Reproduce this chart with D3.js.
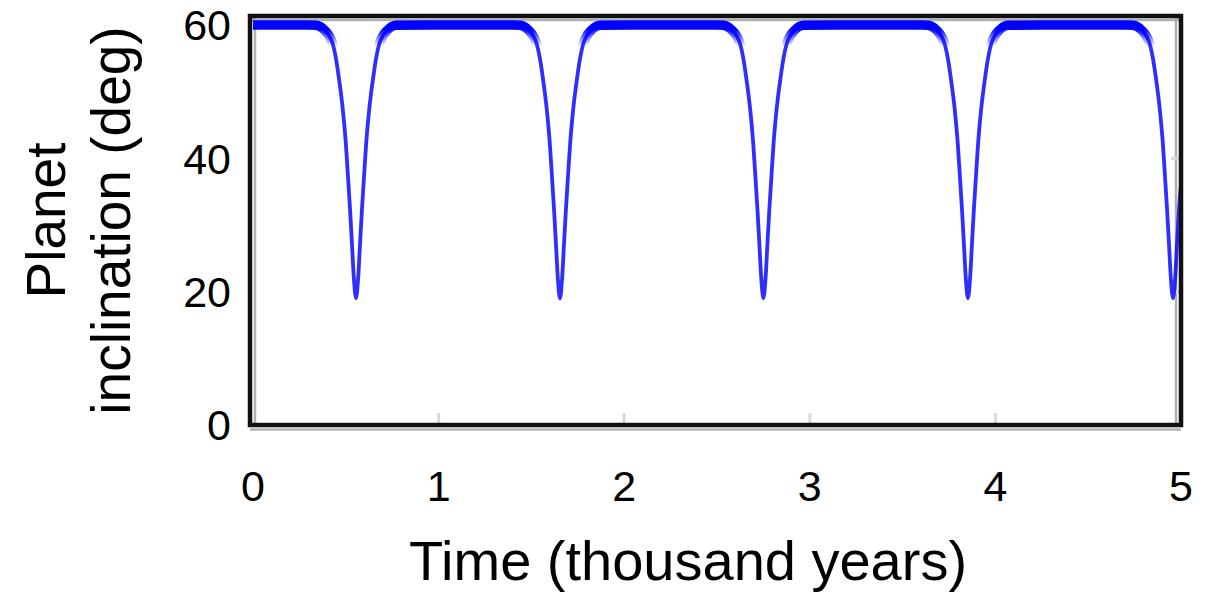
<!DOCTYPE html>
<html>
<head>
<meta charset="utf-8">
<script src="https://cdn.jsdelivr.net/npm/d3@7"></script>
<style>
  html, body { margin: 0; padding: 0; background: #fff; }
  svg { display: block; font-family: "Liberation Sans", Arial, sans-serif; }
</style>
</head>
<body>
<svg id="chart" width="1216" height="593"></svg>
<script>
// ---- data ----
const timeKyr = [
  0.000, 0.150, 0.300,
  0.339, 0.385, 0.412, 0.428, 0.448, 0.462, 0.484, 0.500, 0.512, 0.523, 0.533, 0.543, 0.555,
  0.567, 0.577, 0.587, 0.598, 0.610, 0.626, 0.648, 0.662, 0.682, 0.698, 0.725, 0.771,
  0.950, 1.100, 1.250, 1.400,
  1.438, 1.484, 1.511, 1.527, 1.547, 1.561, 1.583, 1.599, 1.611, 1.622, 1.632, 1.642, 1.654,
  1.666, 1.676, 1.686, 1.697, 1.709, 1.725, 1.747, 1.761, 1.781, 1.797, 1.824, 1.870,
  2.050, 2.200, 2.350, 2.500,
  2.534, 2.580, 2.607, 2.623, 2.643, 2.657, 2.679, 2.695, 2.707, 2.718, 2.728, 2.738, 2.750,
  2.762, 2.772, 2.782, 2.793, 2.805, 2.821, 2.843, 2.857, 2.877, 2.893, 2.920, 2.966,
  3.150, 3.300, 3.450, 3.600,
  3.636, 3.682, 3.709, 3.725, 3.745, 3.759, 3.781, 3.797, 3.809, 3.820, 3.830, 3.840, 3.852,
  3.864, 3.874, 3.884, 3.895, 3.907, 3.923, 3.945, 3.959, 3.979, 3.995, 4.022, 4.068,
  4.250, 4.400, 4.550, 4.700,
  4.741, 4.787, 4.814, 4.830, 4.850, 4.864, 4.886, 4.902, 4.914, 4.925, 4.935, 4.945, 4.957,
  4.969, 4.979, 4.989, 5.000
];
const inclinationDeg = [
  60.0, 60.0, 60.0,
  59.95, 59.25, 58.3, 57.3, 54.8, 52.2, 47.3, 42.3, 37.2, 32.3, 27.3, 22.2, 19.0,
  22.2, 27.3, 32.3, 37.2, 42.3, 47.3, 52.2, 54.8, 57.3, 58.3, 59.25, 59.95,
  60.0, 60.0, 60.0, 60.0,
  59.95, 59.25, 58.3, 57.3, 54.8, 52.2, 47.3, 42.3, 37.2, 32.3, 27.3, 22.2, 19.0,
  22.2, 27.3, 32.3, 37.2, 42.3, 47.3, 52.2, 54.8, 57.3, 58.3, 59.25, 59.95,
  60.0, 60.0, 60.0, 60.0,
  59.95, 59.25, 58.3, 57.3, 54.8, 52.2, 47.3, 42.3, 37.2, 32.3, 27.3, 22.2, 19.0,
  22.2, 27.3, 32.3, 37.2, 42.3, 47.3, 52.2, 54.8, 57.3, 58.3, 59.25, 59.95,
  60.0, 60.0, 60.0, 60.0,
  59.95, 59.25, 58.3, 57.3, 54.8, 52.2, 47.3, 42.3, 37.2, 32.3, 27.3, 22.2, 19.0,
  22.2, 27.3, 32.3, 37.2, 42.3, 47.3, 52.2, 54.8, 57.3, 58.3, 59.25, 59.95,
  60.0, 60.0, 60.0, 60.0,
  59.95, 59.25, 58.3, 57.3, 54.8, 52.2, 47.3, 42.3, 37.2, 32.3, 27.3, 22.2, 19.0,
  22.2, 27.3, 32.3, 36.0
];
const xTicks = [0, 1, 2, 3, 4, 5];
const yTicks = [0, 20, 40, 60];
const xTitle = "Time (thousand years)";
const yTitleLines = ["Planet", "inclination (deg)"];

// ---- layout ----
const svg = d3.select("#chart");
const x = d3.scaleLinear().domain([0, 5]).range([253, 1181]);
const y = d3.scaleLinear().domain([0, 61.35]).range([425, 16]);

const points = timeKyr.map((t, i) => [t, inclinationDeg[i]]);
const line = d3.line().x(d => x(d[0])).y(d => y(d[1])).curve(d3.curveMonotoneX);

const pLeft = x.range()[0] - 3, pRight = x.range()[1];
const pTop = y.range()[1], pBottom = y.range()[0];

const defs = svg.append("defs");
defs.append("clipPath").attr("id", "plotclip")
  .append("rect").attr("x", pLeft).attr("y", pTop).attr("width", pRight - pLeft).attr("height", pBottom - pTop);
const grad = defs.append("linearGradient").attr("id", "fade")
  .attr("gradientUnits", "userSpaceOnUse").attr("x1", 0).attr("x2", 0)
  .attr("y1", y(59.4)).attr("y2", y(56.8));
grad.append("stop").attr("offset", 0).attr("stop-color", "#fff").attr("stop-opacity", 1);
grad.append("stop").attr("offset", 1).attr("stop-color", "#fff").attr("stop-opacity", 0);
defs.append("mask").attr("id", "bandmask").attr("maskUnits", "userSpaceOnUse")
  .attr("x", 0).attr("y", 0).attr("width", 1216).attr("height", 593)
  .append("rect").attr("x", 0).attr("y", 0).attr("width", 1216).attr("height", 593)
  .attr("fill", "url(#fade)");

// light gray inner lines of the frame
const gray = svg.append("g").attr("stroke", "#b0b0b0").attr("stroke-width", 2.5).attr("fill", "none");
gray.append("line").attr("x1", pLeft + 5).attr("x2", pLeft + 5).attr("y1", pTop).attr("y2", pBottom);
gray.append("line").attr("x1", pLeft).attr("x2", pRight).attr("y1", pTop + 4).attr("y2", pTop + 4);
gray.append("line").attr("x1", pRight - 5).attr("x2", pRight - 5).attr("y1", pTop).attr("y2", pBottom);
gray.append("line").attr("x1", pLeft).attr("x2", pRight).attr("y1", pBottom + 4.5).attr("y2", pBottom + 4.5);

// inner tick marks
const tk = svg.append("g").attr("stroke", "#d8d8d8").attr("stroke-width", 3);
xTicks.filter(v => v > 0 && v < 5).forEach(v => {
  tk.append("line").attr("x1", x(v)).attr("x2", x(v)).attr("y1", pBottom - 12).attr("y2", pBottom);
});
yTicks.filter(v => v > 0 && v < 60).forEach(v => {
  tk.append("line").attr("x1", pRight - 10).attr("x2", pRight).attr("y1", y(v)).attr("y2", y(v));
});

// data line
const g = svg.append("g").attr("clip-path", "url(#plotclip)");
g.append("path").datum(points).attr("d", line)
  .attr("fill", "none").attr("stroke", "#0000ff").attr("stroke-opacity", 0.82)
  .attr("stroke-width", 3.8).attr("stroke-linejoin", "round");
g.append("g").attr("mask", "url(#bandmask)")
  .append("path").datum(points).attr("d", line)
  .attr("fill", "none").attr("stroke", "#0000ff").attr("stroke-width", 9.5).attr("stroke-linejoin", "round");

// frame
svg.append("rect").attr("x", pLeft).attr("y", pTop).attr("width", pRight - pLeft).attr("height", pBottom - pTop)
  .attr("fill", "none").attr("stroke", "#111").attr("stroke-width", 4.5);

// tick labels
svg.append("g").selectAll("text").data(yTicks).join("text")
  .attr("x", 231).attr("y", d => y(d)).attr("dy", "0.36em")
  .attr("text-anchor", "end").attr("font-size", 43).attr("fill", "#000")
  .text(d => d);
svg.append("g").selectAll("text").data(xTicks).join("text")
  .attr("x", d => x(d)).attr("y", 501)
  .attr("text-anchor", "middle").attr("font-size", 43).attr("fill", "#000")
  .text(d => d);

// titles
svg.append("text").attr("x", 688).attr("y", 580).attr("text-anchor", "middle")
  .attr("font-size", 56).attr("fill", "#000").text(xTitle);
const yCenter = (pTop + pBottom) / 2;
[65, 130].forEach((bx, i) => {
  svg.append("text").attr("transform", `translate(${bx},${yCenter}) rotate(-90)`)
    .attr("text-anchor", "middle").attr("font-size", 55).attr("fill", "#000")
    .text(yTitleLines[i]);
});
</script>
</body>
</html>
